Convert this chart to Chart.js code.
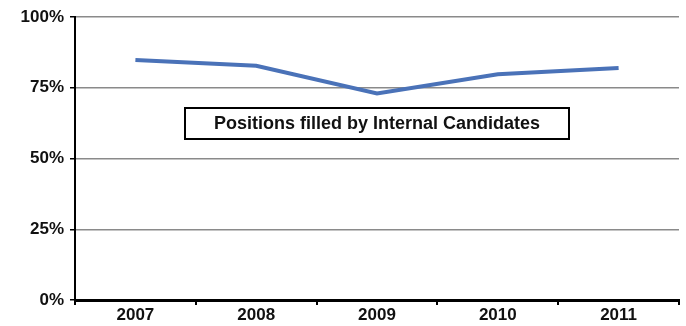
<!DOCTYPE html>
<html>
<head>
<meta charset="utf-8">
<script src="https://cdn.jsdelivr.net/npm/chart.js@4"></script>
<style>
  html, body { margin: 0; padding: 0; background: #fff; }
  #wrap { width: 686px; height: 326px; position: relative; }
</style>
</head>
<body>
<div id="wrap"><canvas id="chart" width="686" height="326"></canvas></div>
<script>
// values
const years = ['2007', '2008', '2009', '2010', '2011'];
const internalShare = [84.8, 82.8, 73, 79.8, 82];
const yTicks = [0, 25, 50, 75, 100];
const seriesName = 'Positions filled by Internal Candidates';

// legend box drawn inside plot area
const boxLegend = {
  id: 'boxLegend',
  afterDatasetsDraw(chart) {
    const ctx = chart.ctx;
    const a = chart.chartArea;
    const cx = (a.left + a.right) / 2;
    const top = a.top + 91;
    ctx.save();
    ctx.font = 'bold 18px "Liberation Sans", Arial, sans-serif';
    const w = 384, h = 31;
    ctx.fillStyle = '#fff';
    ctx.fillRect(cx - w / 2, top, w, h);
    ctx.lineWidth = 2;
    ctx.strokeStyle = '#000';
    ctx.strokeRect(cx - w / 2, top, w, h);
    ctx.fillStyle = '#111';
    ctx.textAlign = 'center';
    ctx.textBaseline = 'middle';
    ctx.fillText(seriesName, cx, top + h / 2 + 1);
    ctx.restore();
  }
};

const tickFont = { family: '"Liberation Sans", Arial, sans-serif', size: 17, weight: 'bold' };

new Chart(document.getElementById('chart'), {
  type: 'line',
  data: {
    labels: years,
    datasets: [{
      label: seriesName,
      data: internalShare,
      borderColor: '#4a72b8',
      borderWidth: 4,
      pointRadius: 0,
      tension: 0,
      fill: false
    }]
  },
  options: {
    responsive: false,
    animation: false,
    layout: { padding: { top: 17, right: 7, left: 0, bottom: 0 } },
    plugins: { legend: { display: false }, tooltip: { enabled: false } },
    scales: {
      x: {
        offset: true,
        grid: { display: true, offset: true, drawOnChartArea: false, drawTicks: true, tickLength: 5, color: '#000', lineWidth: 2 },
        border: { color: '#000', width: 3 },
        ticks: { color: '#111', font: tickFont, padding: 0, maxRotation: 0 },
        afterFit(s) { s.height = 26; }
      },
      y: {
        min: 0,
        max: 100,
        afterBuildTicks(s) { s.ticks = yTicks.map(v => ({ value: v })); },
        grid: { color: '#8a8a8a', lineWidth: 1.5, tickColor: '#000', tickLength: 5, drawTicks: true },
        border: { color: '#000', width: 2 },
        ticks: { color: '#111', font: tickFont, padding: 6, callback: v => v + '%' },
        afterFit(s) { s.width = 75; }
      }
    }
  },
  plugins: [boxLegend]
});
</script>
</body>
</html>
